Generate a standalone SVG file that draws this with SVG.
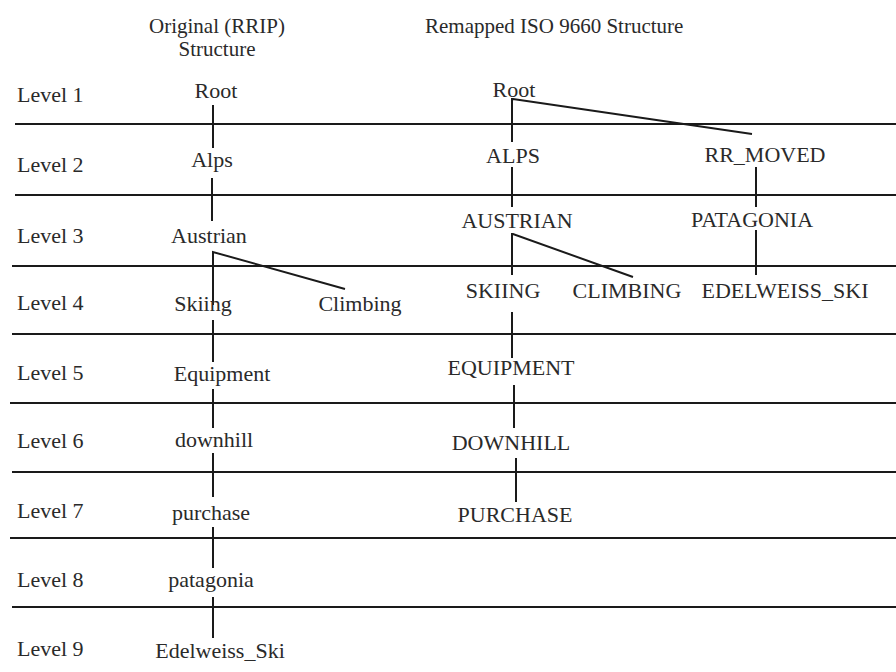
<svg xmlns="http://www.w3.org/2000/svg" width="896" height="672" viewBox="0 0 896 672" font-family="'Liberation Serif', 'Times New Roman', 'DejaVu Serif', serif">
  <style>
    text { font-family: 'Liberation Serif', 'Times New Roman', 'DejaVu Serif', serif; font-size: 22px; fill: #2a2a2a; }
    .c { text-anchor: middle; }
    .h { font-size: 21px; }
    .rule { stroke: #1a1a1a; stroke-width: 2; }
    .link { stroke: #1a1a1a; stroke-width: 2; fill: none; }
  </style>
  <rect width="896" height="672" fill="#ffffff"/>

  <!-- column headings -->
  <g id="headings">
    <text class="c h" x="217" y="33">Original (RRIP)</text>
    <text class="c h" x="217" y="56">Structure</text>
    <text class="h" x="425" y="33">Remapped ISO 9660 Structure</text>
  </g>

  <!-- level separators -->
  <g id="separators" class="rule">
    <line x1="15" y1="124" x2="896" y2="124"/>
    <line x1="15" y1="195" x2="896" y2="195"/>
    <line x1="12" y1="266" x2="896" y2="266"/>
    <line x1="12" y1="334" x2="896" y2="334"/>
    <line x1="10" y1="403" x2="896" y2="403"/>
    <line x1="12" y1="472" x2="896" y2="472"/>
    <line x1="10" y1="538" x2="896" y2="538"/>
    <line x1="12" y1="607" x2="896" y2="607"/>
  </g>

  <!-- level labels -->
  <g id="levels">
    <text x="17" y="102">Level 1</text>
    <text x="17" y="172">Level 2</text>
    <text x="17" y="243">Level 3</text>
    <text x="17" y="310">Level 4</text>
    <text x="17" y="380">Level 5</text>
    <text x="17" y="448">Level 6</text>
    <text x="17" y="518">Level 7</text>
    <text x="17" y="587">Level 8</text>
    <text x="17" y="656">Level 9</text>
  </g>

  <!-- connectors -->
  <g id="connectors" class="link">
    <!-- original tree -->
    <line x1="213" y1="105" x2="213" y2="148"/>
    <line x1="212" y1="178" x2="212" y2="221"/>
    <polyline points="345,289 213,252 213,305"/>
    <line x1="213" y1="320" x2="213" y2="362"/>
    <line x1="213" y1="389" x2="213" y2="428"/>
    <line x1="213" y1="453" x2="213" y2="497"/>
    <line x1="213" y1="527" x2="213" y2="568"/>
    <line x1="213" y1="597" x2="213" y2="638"/>
    <!-- remapped tree -->
    <polyline points="752,134 513,99 512,99 512,142"/>
    <line x1="512" y1="167" x2="512" y2="207"/>
    <line x1="756" y1="167" x2="756" y2="207"/>
    <polyline points="633,277 513,234 512,234 512,275"/>
    <line x1="756" y1="230" x2="756" y2="275"/>
    <line x1="512" y1="312" x2="512" y2="358"/>
    <line x1="514" y1="385" x2="514" y2="428"/>
    <line x1="516" y1="458" x2="516" y2="502"/>
  </g>

  <!-- original (RRIP) nodes -->
  <g id="orig-root"><text class="c" x="216" y="98">Root</text></g>
  <g id="orig-alps"><text class="c" x="212" y="167">Alps</text></g>
  <g id="orig-austrian"><text class="c" x="209" y="243">Austrian</text></g>
  <g id="orig-skiing"><text class="c" x="203" y="311">Skiing</text></g>
  <g id="orig-climbing"><text class="c" x="360" y="311">Climbing</text></g>
  <g id="orig-equipment"><text class="c" x="222" y="381">Equipment</text></g>
  <g id="orig-downhill"><text class="c" x="214" y="447">downhill</text></g>
  <g id="orig-purchase"><text class="c" x="211" y="520">purchase</text></g>
  <g id="orig-patagonia"><text class="c" x="211" y="587">patagonia</text></g>
  <g id="orig-edelweiss"><text class="c" x="220" y="658">Edelweiss_Ski</text></g>

  <!-- remapped ISO 9660 nodes -->
  <g id="iso-root"><text class="c" x="514" y="97">Root</text></g>
  <g id="iso-alps"><text class="c" x="513" y="163">ALPS</text></g>
  <g id="iso-rr-moved"><text class="c" x="765" y="162">RR_MOVED</text></g>
  <g id="iso-austrian"><text class="c" x="517" y="228">AUSTRIAN</text></g>
  <g id="iso-patagonia"><text class="c" x="752" y="227">PATAGONIA</text></g>
  <g id="iso-skiing"><text class="c" x="503" y="298">SKIING</text></g>
  <g id="iso-climbing"><text class="c" x="627" y="298">CLIMBING</text></g>
  <g id="iso-edelweiss"><text class="c" x="785" y="298">EDELWEISS_SKI</text></g>
  <g id="iso-equipment"><text class="c" x="511" y="375">EQUIPMENT</text></g>
  <g id="iso-downhill"><text class="c" x="511" y="450">DOWNHILL</text></g>
  <g id="iso-purchase"><text class="c" x="515" y="522">PURCHASE</text></g>
</svg>
